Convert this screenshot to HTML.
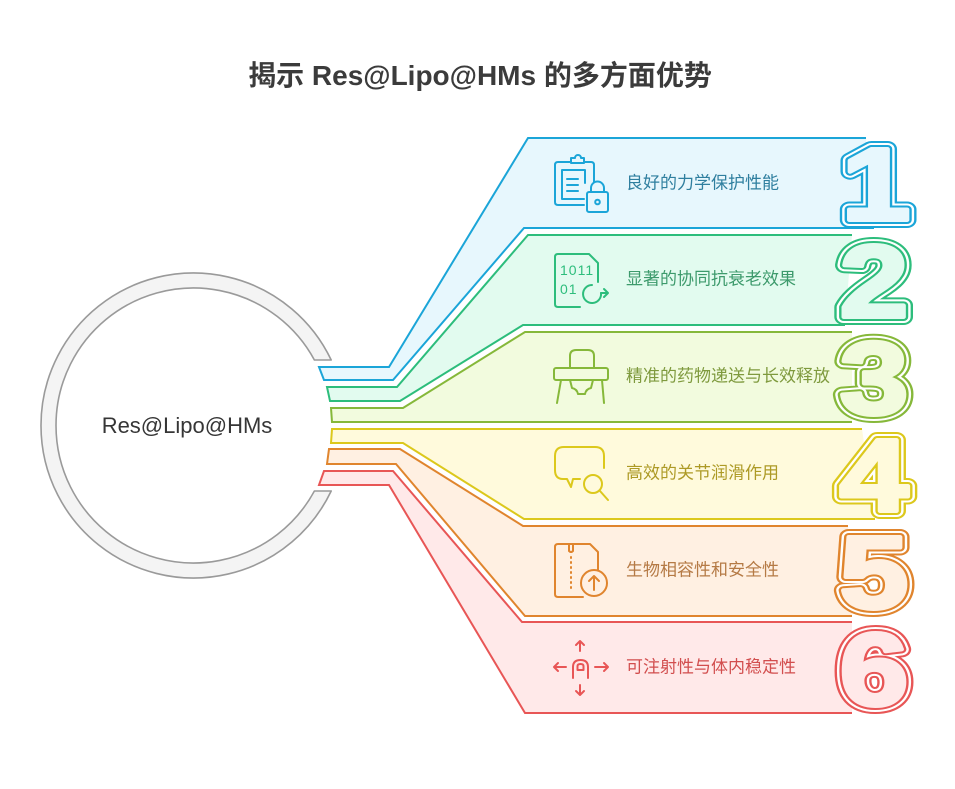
<!DOCTYPE html>
<html>
<head>
<meta charset="utf-8">
<style>
html,body{margin:0;padding:0;background:#fff;}
svg{display:block;}
.lbl{font-family:"Liberation Sans","Noto Sans CJK SC",sans-serif;font-size:17px;}
.num{font-family:"Liberation Sans",sans-serif;font-weight:bold;font-size:103px;}
</style>
</head>
<body>
<svg width="955" height="789" viewBox="0 0 955 789" xmlns="http://www.w3.org/2000/svg">
<rect width="955" height="789" fill="#fff"/>

<!-- Title -->
<text x="480" y="85" text-anchor="middle" style="font-family:'Liberation Sans','Noto Sans CJK SC',sans-serif;font-size:28px;font-weight:bold;" fill="#3b3b3b">揭示 Res@Lipo@HMs 的多方面优势</text>

<!-- Central ring -->
<path d="M 331.2 360 A 152.5 152.5 0 1 0 331.2 491 L 314.4 491 A 137.5 137.5 0 1 1 314.4 360 Z" fill="#f4f4f4" stroke="#9a9a9a" stroke-width="1.6" stroke-linejoin="round"/>
<text x="187" y="433" text-anchor="middle" style="font-family:'Liberation Sans',sans-serif;font-size:22px;" fill="#363636">Res@Lipo@HMs</text>

<!-- Panels -->
<g stroke-width="2" stroke-linejoin="miter">
  <polygon points="866,138 528,138 389,367 319,367 324,380 393,380 524,228 874,228" fill="#e7f7fd" stroke="none"/>
  <polyline points="866,138 528,138 389,367 319,367 324,380 393,380 524,228 874,228" fill="none" stroke="#1ba5d8"/>

  <polygon points="852,235 528,235 397,387 327,387 330,401 400,401 523,325 845,325" fill="#e2fbef" stroke="none"/>
  <polyline points="852,235 528,235 397,387 327,387 330,401 400,401 523,325 845,325" fill="none" stroke="#2dbd7c"/>

  <polygon points="852,332 525,332 403,408 331,408 332,422 852,422" fill="#f2fbde" stroke="none"/>
  <polyline points="852,332 525,332 403,408 331,408 332,422 852,422" fill="none" stroke="#86b83a"/>

  <polygon points="862,429 332,429 331,443 403,443 524,519 875,519" fill="#fffadc" stroke="none"/>
  <polyline points="862,429 332,429 331,443 403,443 524,519 875,519" fill="none" stroke="#dcc81c"/>

  <polygon points="848,526 523,526 400,449 329,449 327,464 396,464 525,616 852,616" fill="#fff0e2" stroke="none"/>
  <polyline points="848,526 523,526 400,449 329,449 327,464 396,464 525,616 852,616" fill="none" stroke="#e0852e"/>

  <polygon points="852,622 522,622 393,471 324,471 319,485 389,485 525,713 852,713" fill="#ffe9e9" stroke="none"/>
  <polyline points="852,622 522,622 393,471 324,471 319,485 389,485 525,713 852,713" fill="none" stroke="#e85656"/>
</g>

<!-- Big numbers -->
<g class="num" text-anchor="middle" stroke-linejoin="round">
  <g transform="translate(876,220) scale(1.2,1)">
    <text x="0" y="0" fill="#1ba5d8" stroke="#1ba5d8" stroke-width="16">1</text>
    <text x="0" y="0" fill="#fff" stroke="#fff" stroke-width="12">1</text>
    <text x="0" y="0" fill="#1ba5d8" stroke="#1ba5d8" stroke-width="8">1</text>
    <text x="0" y="0" fill="#e7f7fd" stroke="#e7f7fd" stroke-width="4">1</text>
  </g>
  <g transform="translate(874,317) scale(1.2,1)">
    <text x="0" y="0" fill="#2dbd7c" stroke="#2dbd7c" stroke-width="16">2</text>
    <text x="0" y="0" fill="#fff" stroke="#fff" stroke-width="12">2</text>
    <text x="0" y="0" fill="#2dbd7c" stroke="#2dbd7c" stroke-width="8">2</text>
    <text x="0" y="0" fill="#e2fbef" stroke="#e2fbef" stroke-width="4">2</text>
  </g>
  <g transform="translate(874,414) scale(1.2,1)">
    <text x="0" y="0" fill="#86b83a" stroke="#86b83a" stroke-width="16">3</text>
    <text x="0" y="0" fill="#fff" stroke="#fff" stroke-width="12">3</text>
    <text x="0" y="0" fill="#86b83a" stroke="#86b83a" stroke-width="8">3</text>
    <text x="0" y="0" fill="#f2fbde" stroke="#f2fbde" stroke-width="4">3</text>
  </g>
  <g transform="translate(874,511) scale(1.2,1)">
    <text x="0" y="0" fill="#dcc81c" stroke="#dcc81c" stroke-width="16">4</text>
    <text x="0" y="0" fill="#fff" stroke="#fff" stroke-width="12">4</text>
    <text x="0" y="0" fill="#dcc81c" stroke="#dcc81c" stroke-width="8">4</text>
    <text x="0" y="0" fill="#fffadc" stroke="#fffadc" stroke-width="4">4</text>
  </g>
  <g transform="translate(874,608) scale(1.2,1)">
    <text x="0" y="0" fill="#e0852e" stroke="#e0852e" stroke-width="16">5</text>
    <text x="0" y="0" fill="#fff" stroke="#fff" stroke-width="12">5</text>
    <text x="0" y="0" fill="#e0852e" stroke="#e0852e" stroke-width="8">5</text>
    <text x="0" y="0" fill="#fff0e2" stroke="#fff0e2" stroke-width="4">5</text>
  </g>
  <g transform="translate(874,705) scale(1.2,1)">
    <text x="0" y="0" fill="#e85656" stroke="#e85656" stroke-width="16">6</text>
    <text x="0" y="0" fill="#fff" stroke="#fff" stroke-width="12">6</text>
    <text x="0" y="0" fill="#e85656" stroke="#e85656" stroke-width="8">6</text>
    <text x="0" y="0" fill="#ffe9e9" stroke="#ffe9e9" stroke-width="4">6</text>
  </g>
</g>

<!-- Labels -->
<text class="lbl" x="626" y="183" dominant-baseline="central" fill="#2f7f9f">良好的力学保护性能</text>
<text class="lbl" x="626" y="279" dominant-baseline="central" fill="#3d9a6c">显著的协同抗衰老效果</text>
<text class="lbl" x="626" y="376" dominant-baseline="central" fill="#7f9a3e">精准的药物递送与长效释放</text>
<text class="lbl" x="626" y="473" dominant-baseline="central" fill="#ad9a26">高效的关节润滑作用</text>
<text class="lbl" x="626" y="570" dominant-baseline="central" fill="#b57a45">生物相容性和安全性</text>
<text class="lbl" x="626" y="667" dominant-baseline="central" fill="#d24e4e">可注射性与体内稳定性</text>

<!-- Icons -->
<g fill="none" stroke-width="2" stroke-linecap="round" stroke-linejoin="round">
  <!-- 1 clipboard lock -->
  <g stroke="#1ba5d8">
    <path d="M 571 162 H 558 Q 555 162 555 165 V 202 Q 555 205 558 205 H 584"/>
    <path d="M 584 162 H 591 Q 594 162 594 165 V 182"/>
    <path d="M 571 163 V 158 H 575 A 3 3 0 0 1 581 158 H 584 V 163 Z"/>
    <path d="M 585 183 V 170 H 562 V 199 H 584"/>
    <path d="M 567 179 H 578 M 567 185 H 578 M 567 191 H 578"/>
    <rect x="587" y="192" width="21" height="20" rx="2"/>
    <path d="M 591 192 V 188 A 6.5 6.5 0 0 1 604 188 V 192"/>
    <circle cx="597.5" cy="202" r="2.3"/>
  </g>
  <!-- 2 binary file refresh -->
  <g stroke="#2dbd7c">
    <path d="M 598 282 V 263 L 589 254 H 558 Q 555 254 555 257 V 304 Q 555 307 558 307 H 580"/>
    <path d="M 601 293 A 9 9 0 1 1 592 285"/>
    <path d="M 601 293 H 608 M 604 289 L 608 293 L 604 297" />
  </g>
  <text x="560" y="275" style="font-family:'Liberation Sans',sans-serif;font-size:14px;letter-spacing:1px;" fill="#2dbd7c">1011</text>
  <text x="560" y="294" style="font-family:'Liberation Sans',sans-serif;font-size:14px;letter-spacing:1px;" fill="#2dbd7c">01</text>
  <!-- 3 high chair -->
  <g stroke="#86b83a">
    <path d="M 570 368 V 356 Q 570 350 576 350 H 588 Q 594 350 594 356 V 368"/>
    <rect x="554" y="368" width="54" height="12" rx="2"/>
    <path d="M 561 380 L 557 403 M 602 380 L 604 403"/>
    <path d="M 570 380 L 572 388 Q 577 389 578 394 H 585 Q 586 389 591 388 L 593 380"/>
  </g>
  <!-- 4 speech bubble + magnifier -->
  <g stroke="#dcc81c">
    <path d="M 580 479 H 573 L 571 487 L 567 479 H 563 Q 555 479 555 470 V 456 Q 555 447 564 447 H 595 Q 604 447 604 456 V 468"/>
    <circle cx="593" cy="484" r="9"/>
    <path d="M 600 491 L 608 500"/>
  </g>
  <!-- 5 zip file upload -->
  <g stroke="#e0852e">
    <path d="M 598 570 V 552 L 590 544 H 558 Q 555 544 555 547 V 594 Q 555 597 558 597 H 583"/>
    <path d="M 569 544 V 551 Q 571 553 573 551 V 544"/>
    <path d="M 571 557 V 592" stroke-dasharray="1 4"/>
    <circle cx="594" cy="583" r="13"/>
    <path d="M 594 590 V 576 M 589 581 L 594 576 L 599 581"/>
  </g>
  <!-- 6 touch arrows -->
  <g stroke="#e85656">
    <path d="M 580 641 V 651 M 576 645 L 580 641 L 584 645"/>
    <path d="M 580 685 V 695 M 576 691 L 580 695 L 584 691"/>
    <path d="M 554 667 H 566 M 558 663 L 554 667 L 558 671"/>
    <path d="M 595 667 H 608 M 604 663 L 608 667 L 604 671"/>
    <path d="M 573 678 V 667 Q 573 660 580.5 660 Q 588 660 588 667 V 678"/>
    <path d="M 577.5 670 V 666 Q 577.5 664 580.5 664 Q 583.5 664 583.5 666 V 670 Z"/>
  </g>
</g>
</svg>
</body>
</html>
